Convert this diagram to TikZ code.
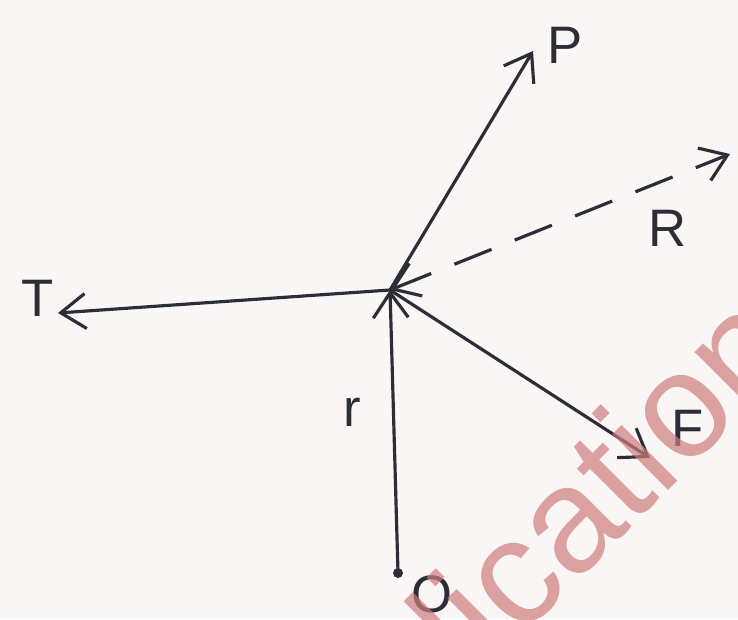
\documentclass[tikz,border=0pt]{standalone}
\usepackage{fontspec}
\setmainfont{Liberation Sans}
\usetikzlibrary{arrows.meta}
\definecolor{inkgray}{RGB}{45,45,55}
\definecolor{paper}{RGB}{250,246,245}
\definecolor{markpink}{RGB}{205,125,125}
\begin{document}
\begin{tikzpicture}[
  vec/.style={-{Straight Barb[length=5mm,width=7mm]}, line width=1.8pt, color=inkgray},
  lbl/.style={font=\fontsize{30}{30}\selectfont, text=inkgray, inner sep=0pt},
  wmark/.style={font=\fontsize{85}{85}\selectfont, text=markpink, text opacity=0.7, rotate=45}]
  % page and clip
  \useasboundingbox[fill=paper] (0,0) rectangle (14.76,12.38);
  \clip (0,0) rectangle (14.76,12.38);

  % points
  \coordinate (C) at (7.8,6.58);
  \coordinate (P) at (10.66,11.36);
  \coordinate (R) at (14.6,9.3);
  \coordinate (T) at (1.16,6.12);
  \coordinate (F) at (13.0,3.22);
  \coordinate (O) at (7.96,0.92);

  % forces
  \draw[vec] (C) -- (P);
  \draw[vec] (C) -- (T);
  \draw[vec] (C) -- (F);
  \draw[vec, {Straight Barb[length=5mm,width=7mm]}-{Straight Barb[length=5mm,width=7mm]}, dash pattern=on 0.8cm off 0.5cm] (C) -- (R);
  \draw[vec] (O) -- (C);
  \fill[inkgray] (O) circle (0.1);

  % labels
  \node[lbl] (Plbl) at (11.3,11.48) {P};
  \node[lbl] (Rlbl) at (13.36,7.82) {R};
  \node[lbl] (Tlbl) at (0.76,6.42) {T};
  \node[lbl] (Flbl) at (13.76,3.82) {F};
  \node[lbl] (rlbl) at (7.04,4.14) {r};
  \node[lbl] (Olbl) at (8.64,0.5) {O};

  % watermark
  \node[wmark] (wm) at (12.0,2.72) {lication};
\end{tikzpicture}
\end{document}
